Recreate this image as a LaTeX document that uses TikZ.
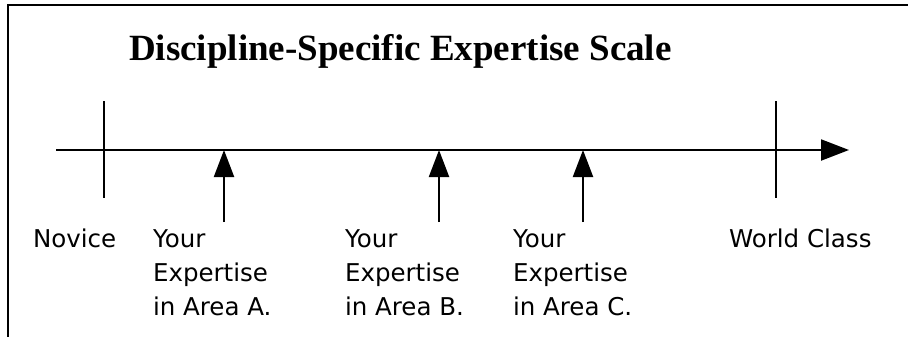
\documentclass[tikz,border=0pt]{standalone}
\usepackage{fontspec}
\setmainfont{Liberation Serif}
\newfontfamily\labelfont{DejaVu Sans}
\usetikzlibrary{arrows.meta}
\begin{document}
\begin{tikzpicture}[x=1pt,y=-1pt,line width=2.1pt,
  lbl/.style={font=\labelfont\fontsize{24.5}{34}\selectfont,inner sep=0pt,align=left,anchor=base west},
  ttl/.style={font=\bfseries\fontsize{37}{44}\selectfont,inner sep=0pt,anchor=base west},
  tick/.style={line width=2.1pt},
  upar/.style={line width=2.1pt,-{Triangle[length=27pt,width=20pt]}},
  axar/.style={line width=2.1pt,-{Triangle[length=28pt,width=21pt]}},
  frame/.style={line width=2.4pt}]
\useasboundingbox (0,0) rectangle (908,337);
% frame
\coordinate (f0) at (8,337);
\coordinate (f1) at (8,5);
\coordinate (f2) at (908,5);
\draw[frame] (f0) -- (f1) -- (f2);
% title
\node[ttl] (title) at (128,60) {Discipline-Specific Expertise Scale};
% axis
\coordinate (ax0) at (56,150);
\coordinate (ax1) at (849,150);
\draw[axar] (ax0) -- (ax1);
% ticks
\coordinate (nt0) at (104,101);
\coordinate (nt1) at (104,198);
\coordinate (wt0) at (776,101);
\coordinate (wt1) at (776,198);
\draw[tick] (nt0) -- (nt1);
\draw[tick] (wt0) -- (wt1);
% up arrows
\coordinate (a0) at (224,222);
\coordinate (a1) at (224,150);
\coordinate (b0) at (439,222);
\coordinate (b1) at (439,150);
\coordinate (c0) at (583,222);
\coordinate (c1) at (583,150);
\draw[upar] (a0) -- (a1);
\draw[upar] (b0) -- (b1);
\draw[upar] (c0) -- (c1);
% labels (multi-line nodes are anchored at the baseline of their last line)
\node[lbl] (novice) at (32,247) {Novice};
\node[lbl] (world) at (728,247) {World Class};
\node[lbl] (la) at (152,315) {Your\\Expertise\\in Area A.};
\node[lbl] (lb) at (344,315) {Your\\Expertise\\in Area B.};
\node[lbl] (lc) at (512,315) {Your\\Expertise\\in Area C.};
\end{tikzpicture}
\end{document}
